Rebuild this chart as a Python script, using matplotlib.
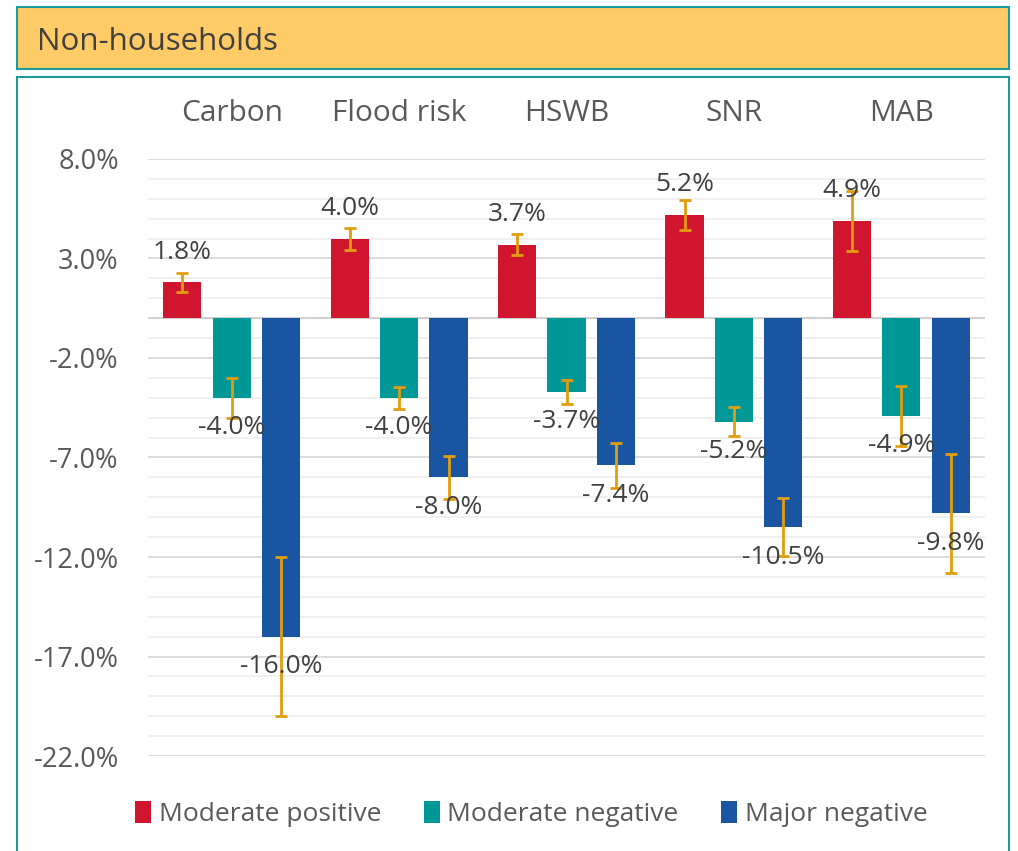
import numpy as np
import matplotlib
matplotlib.use('Agg')
import matplotlib.pyplot as plt
from matplotlib.patches import Rectangle

plt.rcParams['font.family'] = ['Open Sans', 'DejaVu Sans']

# Values per category (percent)
categories = ['Carbon', 'Flood risk', 'HSWB', 'SNR', 'MAB']
series = ['Moderate positive', 'Moderate negative', 'Major negative']
mod_pos = [1.8, 4.0, 3.7, 5.2, 4.9]
mod_neg = [-4.0, -4.0, -3.7, -5.2, -4.9]
maj_neg = [-16.0, -8.0, -7.4, -10.5, -9.8]
err_mod_pos = [0.48, 0.55, 0.55, 0.75, 1.5]
err_mod_neg = [1.0, 0.55, 0.6, 0.73, 1.5]
err_maj_neg = [4.0, 1.1, 1.15, 1.45, 3.0]

colors = ['#D0152F', '#009797', '#1A55A1']
err_color = '#E29D0C'
text_color = '#595959'

fig = plt.figure(figsize=(10.18, 8.51), dpi=100)

# header band and chart frame (behind the axes)
fig.patches.append(Rectangle((0.0167, 0.9189), 0.9745, 0.0729, transform=fig.transFigure,
                             facecolor='#FFCB66', edgecolor='#1B9C9C', linewidth=1.5, zorder=-2))
fig.patches.append(Rectangle((0.0167, -0.02), 0.9745, 0.9295, transform=fig.transFigure,
                             facecolor='white', edgecolor='#1B9C9C', linewidth=1.5, zorder=-2))
fig.text(0.036, 0.951, 'Non-households', fontsize=22.5, color='#404040', va='center', ha='left')

ax = fig.add_axes([0.1454, 0.1116, 0.8222, 0.7016])
ax.set_facecolor('none')

x = np.arange(len(categories))
width = 0.228
offsets = [-0.295, 0.0, 0.295]
all_vals = [mod_pos, mod_neg, maj_neg]
all_errs = [err_mod_pos, err_mod_neg, err_maj_neg]

for vals, errs, off, col, name in zip(all_vals, all_errs, offsets, colors, series):
    ax.bar(x + off, vals, width, color=col, label=name, zorder=3)
    ax.errorbar(x + off, vals, yerr=errs, fmt='none', ecolor=err_color,
                elinewidth=2.0, capsize=4.5, capthick=2.0, zorder=4)
    for xi, v in zip(x + off, vals):
        dy = 30 if v > 0 else -30
        ax.annotate('%.1f%%' % v, (xi, v), xytext=(0, dy), textcoords='offset pixels',
                    ha='center', va='center', fontsize=19, color='#404040', zorder=5)

ax.set_xlim(-0.5, 4.5)
ax.set_ylim(-22, 8)
ax.set_yticks(np.arange(-22, 9, 5))
ax.set_yticklabels(['%.1f%%' % t for t in np.arange(-22, 9, 5)])
ax.set_yticks(np.arange(-22, 9, 1), minor=True)
ax.grid(axis='y', which='major', color='#D9D9D9', linewidth=1.3, zorder=0)
ax.grid(axis='y', which='minor', color='#EFEFEF', linewidth=1.3, zorder=0)
ax.axhline(0, color='#D0D0D0', linewidth=1.5, zorder=2)

ax.xaxis.tick_top()
ax.set_xticks(x)
ax.set_xticklabels(categories)
ax.tick_params(axis='x', which='both', length=0, pad=22, labelsize=21.5, labelcolor=text_color)
ax.tick_params(axis='y', which='both', length=0, pad=21, labelsize=19.5, labelcolor=text_color)
for s in ax.spines.values():
    s.set_visible(False)

ax.legend(loc='upper center', bbox_to_anchor=(0.458, -0.036), ncol=3, frameon=False,
          fontsize=19, labelcolor=text_color, handlelength=0.6, handleheight=0.9,
          handletextpad=0.3, columnspacing=1.6)

fig.savefig('out.png', dpi=100)
